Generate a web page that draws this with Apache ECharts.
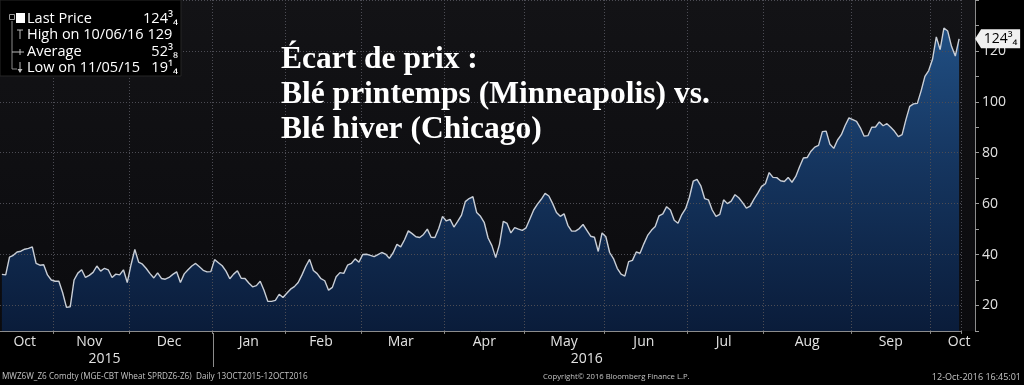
<!DOCTYPE html>
<html><head><meta charset="utf-8">
<script src="https://cdn.jsdelivr.net/npm/echarts@6/dist/echarts.min.js"></script>
<style>html,body{margin:0;padding:0;background:#000;}#c{width:1024px;height:385px;}</style>
</head><body><div id="c"></div>
<script>
// ---- data: MWZ6W_Z6 spread, one value per trading day, grouped by month ----
const monthNames = ['Oct','Nov','Dec','Jan','Feb','Mar','Apr','May','Jun','Jul','Aug','Sep','Oct'];
const monthYears = [2015,2015,2015,2016,2016,2016,2016,2016,2016,2016,2016,2016,2016];
const oct15 = [32.2,32,39,39.7,41,41.3,42.1,42.4,43,36.5,35.8,36,32,30];
const nov15 = [29.5,29.5,25,19.25,19.5,30,32.7,34,31,31.8,33,35.5,33.5,34.6,34,31,32.3,32,34,29];
const dec15 = [36,42,37,36.2,34.5,32.5,30.8,32.8,30.6,30.3,31,32.2,33.2,29,32.4,34,35.5,36.5,35.2,33.8,33.2,33.3];
const jan16 = [38,36.8,35.6,33.5,30.5,32.3,33.6,30.7,30.6,28.8,27.3,27.8,29.5,26,21.6,21.6,22,24.4,23.1];
const feb16 = [24.8,26.4,27.4,29,32,35.4,38.1,33.7,32.5,30.5,29.7,26,27.1,31.3,32.9,32.6,35.8,36.5,38.3,37];
const mar16 = [40,40.1,39.7,39.2,40,40.8,40.2,38.5,40.7,44,43,45.8,49.3,48.2,47,46.7,47.9,50,46.8,46.7,50.2,55];
const apr16 = [53.2,53.8,50.8,53,55.5,60.8,62,62.7,56.5,55,52.5,46.5,43.5,38.8,44,53,52.2,48.5,50.6,50,49.5];
const may16 = [50.5,54,57.5,59.8,61.7,64,63,60,56.5,55,56,51.5,49.2,49.2,50.2,51.8,49.5,47.2,46.8,41.2,48.5];
const jun16 = [47,40.8,38.4,34.6,32.3,31.5,37.2,37.7,41,40.5,44.2,47.5,49.5,51,55.2,56,58.8,57.5,53.5,52.3,55.7,58];
const jul16 = [62.5,68.8,69.5,67,62,61.5,57.5,55,55.8,61.5,60,61,63.5,62.3,60.4,58.2,59,61.8,64.1,66.8];
const aug16 = [67.8,72.2,70.3,70.2,69,68.7,70.3,68.4,70.7,74.5,77.9,78.1,80.6,82.2,82.9,88.3,88.5,83.3,81.7,85,87.1,90.7,93.7];
const sep16 = [93,92.3,89.8,86.5,86.7,90,90.1,92.1,90.6,91.4,90,88.4,86.3,87.1,93,98.2,99.2,99.4,104.3,110,112.3];
const oct16 = [116.7,125.5,120.5,129,127.8,121.8,118,124.75];
const yTicks = [20,40,60,80,100,120];
const legendLabels = ['Last Price','High on 10/06/16 129','Average','Low on 11/05/15'];
const legendValues = ['124³₄','','52³₈','19¹₄'];
const titleLines = ['Écart de prix :','Blé printemps (Minneapolis) vs.','Blé hiver (Chicago)'];
const footLeft = 'MWZ6W_Z6 Comdty (MGE-CBT Wheat SPRDZ6-Z6)  Daily 13OCT2015-12OCT2016';
const footMid = 'Copyright© 2016 Bloomberg Finance L.P.';
const footRight = '12-Oct-2016 16:45:01';

const monthData = [oct15,nov15,dec15,jan16,feb16,mar16,apr16,may16,jun16,jul16,aug16,sep16,oct16];
const categories = [], values = [], monthStart = new Set(), labelAt = {}, yearRange = {};
monthData.forEach((arr, m) => {
  const start = values.length;
  monthStart.add(start);
  arr.forEach((v, d) => { categories.push(monthNames[m] + ' ' + monthYears[m] + ' #' + (d + 1)); values.push(v); });
  const end = values.length - 1;
  const mid = (m === monthData.length - 1) ? end : start + Math.floor((arr.length - 1) / 2);
  labelAt[mid] = monthNames[m];
  const y = monthYears[m];
  if (!yearRange[y]) yearRange[y] = [start, end]; else yearRange[y][1] = end;
});
const yearAt = {};
Object.keys(yearRange).forEach(y => { const r = yearRange[y]; yearAt[Math.floor((r[0] + r[1]) / 2)] = y; });
const lastIdx = values.length - 1;

const FONT = '"Open Sans", "DejaVu Sans", sans-serif';
const gridCol = '#4c4c54';

const chart = echarts.init(document.getElementById('c'), null, {renderer: 'canvas', width: 1024, height: 385});

const graphics = [
  {type: 'rect', id: 'plotbg', z: -10, silent: true, shape: {x: 0, y: 0, width: 975, height: 331},
   style: {fill: new echarts.graphic.LinearGradient(0, 0, 0, 1, [{offset: 0, color: '#131316'}, {offset: 1, color: '#0b0b0e'}])}},
  {type: 'rect', id: 'legbox', z: 20, shape: {x: 0, y: 0, width: 181, height: 76}, style: {fill: '#000', stroke: '#262626', lineWidth: 1}},
  {type: 'line', id: 'legtree', z: 21, shape: {x1: 12, y1: 21, x2: 12, y2: 69}, style: {stroke: '#8a8a8a', lineWidth: 1}},
  {type: 'rect', id: 'legico0', z: 21, shape: {x: 9.5, y: 14.5, width: 5, height: 5}, style: {fill: 'none', stroke: '#9a9a9a', lineWidth: 1}},
  {type: 'rect', id: 'legico1', z: 21, shape: {x: 16, y: 13, width: 9, height: 10}, style: {fill: '#fff'}},
  {type: 'line', id: 'legT1', z: 21, shape: {x1: 17, y1: 30, x2: 23, y2: 30}, style: {stroke: '#bbb', lineWidth: 1}},
  {type: 'line', id: 'legT2', z: 21, shape: {x1: 20, y1: 30, x2: 20, y2: 39}, style: {stroke: '#bbb', lineWidth: 1}},
  {type: 'line', id: 'legA1', z: 21, shape: {x1: 12, y1: 52, x2: 24, y2: 52}, style: {stroke: '#bbb', lineWidth: 1}},
  {type: 'line', id: 'legA2', z: 21, shape: {x1: 20, y1: 49, x2: 20, y2: 55}, style: {stroke: '#bbb', lineWidth: 1}},
  {type: 'line', id: 'legL1', z: 21, shape: {x1: 20, y1: 62, x2: 20, y2: 72}, style: {stroke: '#bbb', lineWidth: 1}},
  {type: 'polygon', id: 'legL2', z: 21, shape: {points: [[17.5, 69], [22.5, 69], [20, 73]]}, style: {fill: '#bbb'}},
  {type: 'line', id: 'legH', z: 21, shape: {x1: 12, y1: 69, x2: 17, y2: 69}, style: {stroke: '#8a8a8a', lineWidth: 1}}
];
const rowY = [19, 35, 52, 68];
legendLabels.forEach((t, i) => {
  graphics.push({type: 'text', id: 'legt' + i, z: 21, style: {text: t, x: 27, y: rowY[i], fill: '#fff', font: '14.5px ' + FONT, verticalAlign: 'middle'}});
  if (legendValues[i]) graphics.push({type: 'text', id: 'legv' + i, z: 21, style: {text: legendValues[i], x: 178, y: rowY[i], fill: '#fff', font: '14.5px ' + FONT, align: 'right', verticalAlign: 'middle'}});
});
const titleMid = [59.5, 94.5, 129.5];
titleLines.forEach((t, i) => {
  graphics.push({type: 'text', id: 'title' + i, z: 15, style: {text: t, x: 281, y: titleMid[i], fill: '#fff', font: 'bold 31.5px "Liberation Serif", "Times New Roman", serif', verticalAlign: 'middle'}});
});
graphics.push({type: 'text', id: 'f1', z: 10, style: {text: footLeft, x: 2, y: 377, fill: '#c4c4c4', font: '8.2px ' + FONT, verticalAlign: 'middle'}});
graphics.push({type: 'text', id: 'f2', z: 10, style: {text: footMid, x: 543, y: 377, fill: '#c4c4c4', font: '7.7px ' + FONT, verticalAlign: 'middle'}});
graphics.push({type: 'text', id: 'f3', z: 10, style: {text: footRight, x: 1021, y: 377, fill: '#c4c4c4', font: '9px ' + FONT, align: 'right', verticalAlign: 'middle'}});

const option = {
  backgroundColor: '#000',
  animation: false,
  grid: {left: -1.6, top: -1.6, width: 962.6, height: 332.5, containLabel: false},
  xAxis: [{
    type: 'category', data: categories, boundaryGap: true, z: 2,
    axisLine: {show: true, lineStyle: {color: '#8c8c8c', width: 1}},
    axisTick: {show: true, interval: i => monthStart.has(i) && i > 0, length: 3, lineStyle: {color: '#8c8c8c'}},
    axisLabel: {show: true, interval: i => labelAt[i] !== undefined, formatter: (v, i) => labelAt[i] || '',
      color: '#e2e2e2', fontSize: 14, fontFamily: FONT, margin: 4, hideOverlap: false},
    splitLine: {show: true, interval: i => monthStart.has(i) && i > 0, lineStyle: {color: gridCol, type: [1, 2], width: 1}}
  }, {
    type: 'category', data: categories, boundaryGap: true, position: 'bottom', offset: 17, z: 2,
    axisLine: {show: false}, axisTick: {show: false}, splitLine: {show: false},
    axisLabel: {show: true, interval: i => yearAt[i] !== undefined, formatter: (v, i) => yearAt[i] || '',
      color: '#e2e2e2', fontSize: 14, fontFamily: FONT, margin: 4, hideOverlap: false}
  }],
  yAxis: {
    type: 'value', position: 'right', offset: 14, min: 10, max: 140, interval: 10, z: 2,
    axisLine: {show: true, lineStyle: {color: '#8c8c8c', width: 1}},
    axisTick: {show: true, length: 4, inside: false, lineStyle: {color: '#9c9c9c'}},
    axisLabel: {show: true, formatter: v => (yTicks.indexOf(v) >= 0 ? String(v) : ''), color: '#e2e2e2', fontSize: 14, fontFamily: FONT, margin: 7},
    splitLine: {show: true, lineStyle: {color: ['rgba(0,0,0,0)', gridCol], type: [1, 2], width: 1}}
  },
  series: [{
    type: 'line', data: values, symbol: 'none', z: 1, silent: true,
    lineStyle: {width: 0},
    areaStyle: {opacity: 1, color: {type: 'linear', x: 0, y: 0, x2: 0, y2: 331, global: true,
      colorStops: [{offset: 0, color: '#23548a'}, {offset: 0.5, color: '#15355f'}, {offset: 1, color: '#0a1c3a'}]}}
  }, {
    type: 'line', data: values, symbol: 'none', z: 3, silent: true,
    lineStyle: {color: '#c9ced6', width: 1.4},
    markPoint: {
      silent: true, symbol: 'path://M0,9.5L6,0L45,0L45,19L6,19Z', symbolSize: [45, 19], symbolKeepAspect: false,
      symbolOffset: [38.5, 0],
      itemStyle: {color: '#f0f0f0', borderWidth: 0},
      label: {show: true, position: 'inside', offset: [3, 0], formatter: () => legendValues[0], color: '#000', fontSize: 14, fontFamily: FONT},
      data: [{coord: [lastIdx, values[lastIdx]], value: values[lastIdx]}]
    }
  }],
  graphic: {elements: graphics}
};
chart.setOption(option);

// year separator tick at the band boundary before the first 2016 trading day
const jan = yearRange[2016][0];
const xa = chart.convertToPixel({xAxisIndex: 0}, jan);
const xb = chart.convertToPixel({xAxisIndex: 0}, jan + 1);
const sepX = Math.round(xa - (xb - xa) / 2) + 0.5;
graphics.push({type: 'line', id: 'yearsep', z: 10, shape: {x1: sepX, y1: 333, x2: sepX, y2: 367}, style: {stroke: '#8c8c8c', lineWidth: 1}});
chart.setOption({graphic: {elements: graphics}});
</script></body></html>
